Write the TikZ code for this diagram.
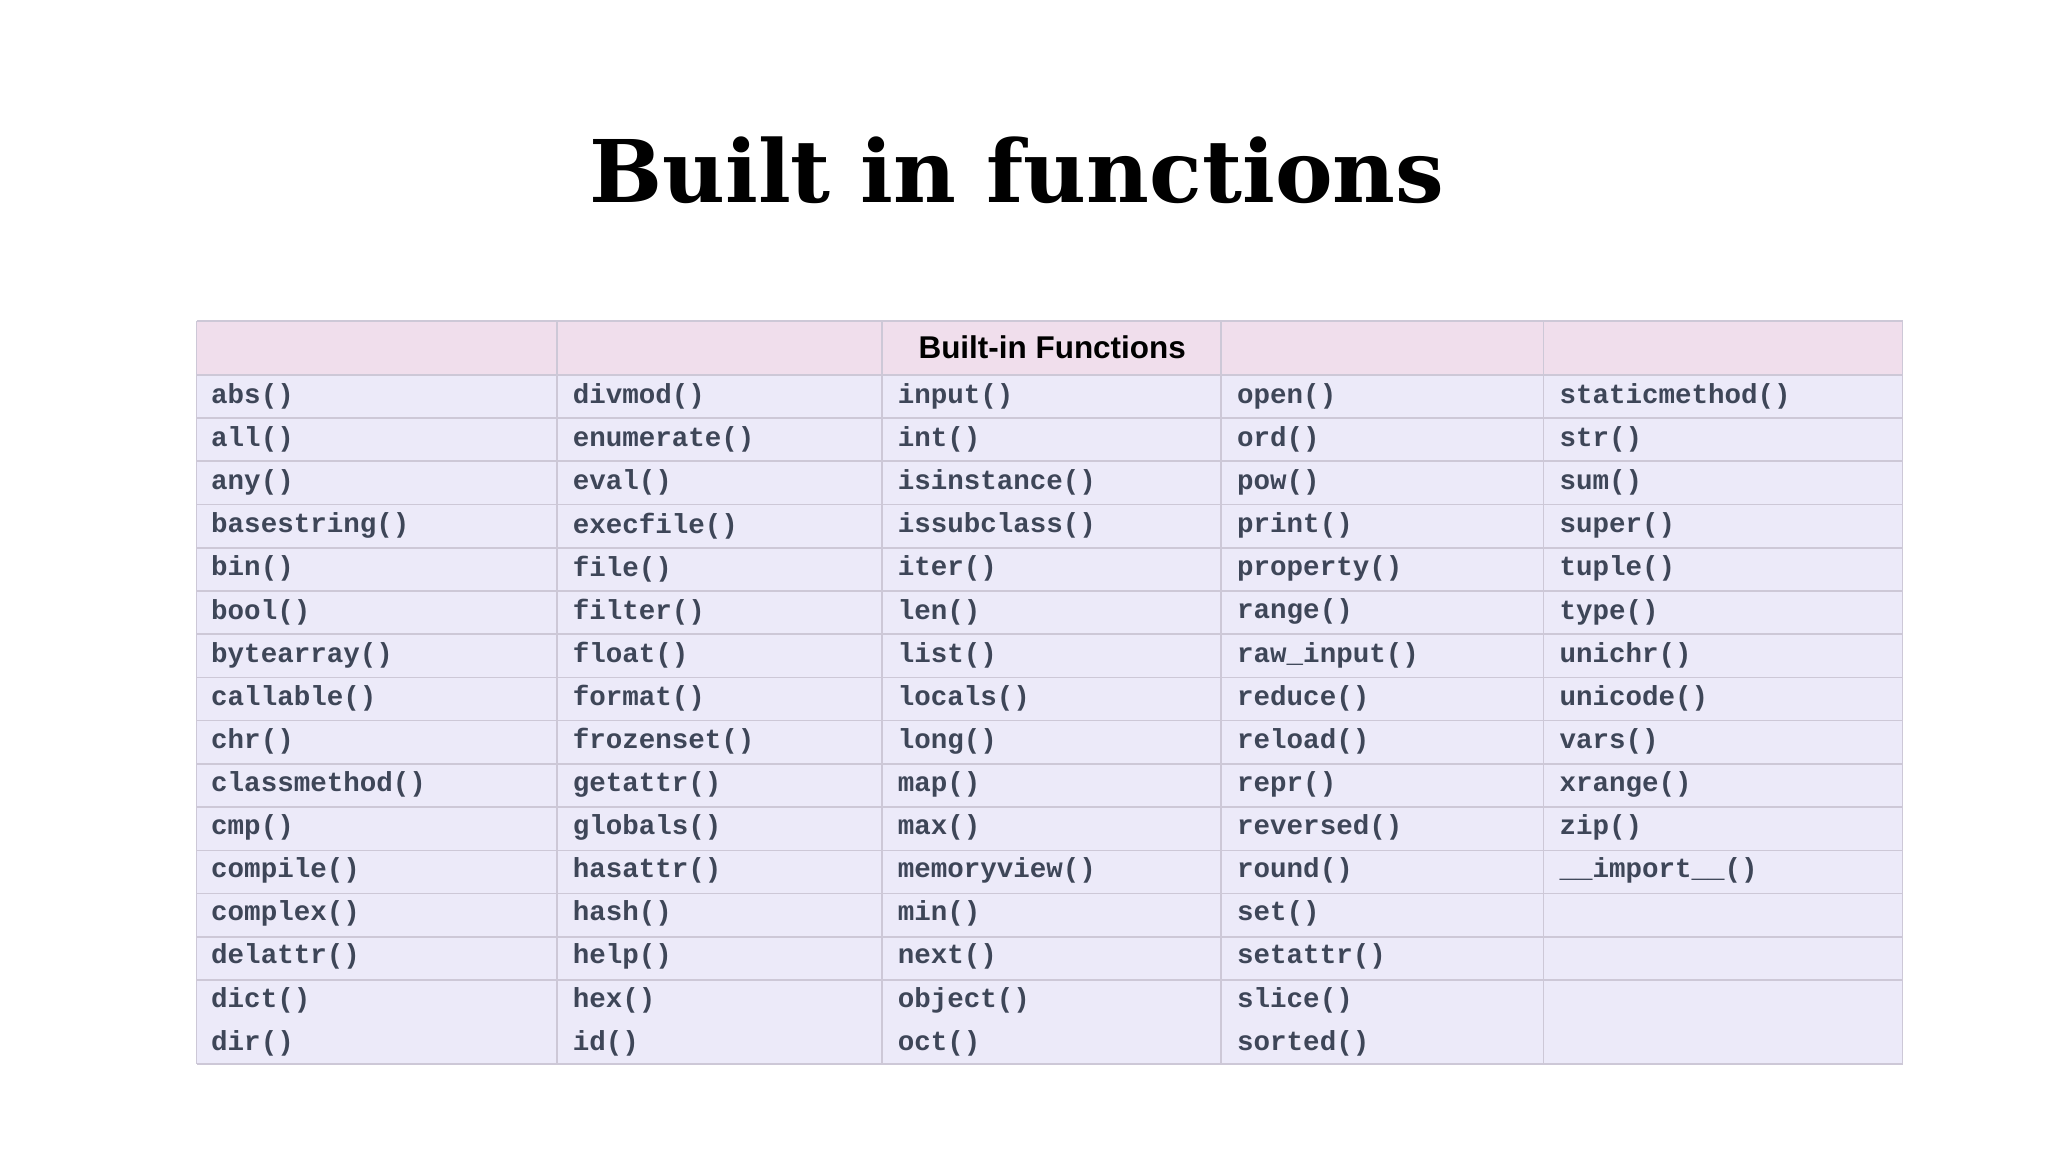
\documentclass[tikz,border=0pt]{standalone}
\usepackage{fontspec}
\setmainfont{DejaVu Serif}
\setsansfont{Liberation Sans}
\setmonofont{Liberation Mono}
\usepackage{xcolor}
\usetikzlibrary{positioning, calc}

\definecolor{headpink}{RGB}{240,222,236}
\definecolor{rowlav}{RGB}{236,234,249}
\definecolor{gridline}{RGB}{205,200,215}
\definecolor{codeink}{RGB}{62,70,88}

\begin{document}
\begin{tikzpicture}[x=1pt, y=-1pt,
cell/.style={anchor=west, inner sep=0pt, text=codeink, font=\fontsize{21}{21}\ttfamily\bfseries},
title/.style={font=\fontsize{66}{66}\selectfont\bfseries},
header/.style={font=\fontsize{24}{24}\sffamily\bfseries}
]
\useasboundingbox (0,0) rectangle (1563,879);

% Title
\node[title] (title) at (776,130) {Built in functions};

% Table background
\fill[headpink] (150,245) rectangle (1452,286);
\fill[rowlav] (150,286) rectangle (1452,812);
\foreach \y in {286,319,...,780} \draw[gridline, line width=1.2pt] (150,\y) -- (1452,\y);
\foreach \x in {150,425,673,932,1178,1452} \draw[gridline, line width=1.2pt] (\x,245) -- (\x,812);
\draw[gridline, line width=1.5pt] (150,245) -- (1452,245);
\draw[gridline, line width=1.5pt] (150,812) -- (1452,812);

% Header
\fill[headpink] (674,246) rectangle (931,285);
\node[header] (head) at (803,265) {Built-in Functions};

% Columns
\foreach \x/\names in {
161/{abs(),all(),any(),basestring(),bin(),bool(),bytearray(),callable(),chr(),classmethod(),cmp(),compile(),complex(),delattr(),dict(),dir()},
437/{divmod(),enumerate(),eval(),execfile(),file(),filter(),float(),format(),frozenset(),getattr(),globals(),hasattr(),hash(),help(),hex(),id()},
685/{input(),int(),isinstance(),issubclass(),iter(),len(),list(),locals(),long(),map(),max(),memoryview(),min(),next(),object(),oct()},
944/{open(),ord(),pow(),print(),property(),range(),raw\_input(),reduce(),reload(),repr(),reversed(),round(),set(),setattr(),slice(),sorted()},
1190/{staticmethod(),str(),sum(),super(),tuple(),type(),unichr(),unicode(),vars(),xrange(),zip(),\_\_import\_\_()}}
{
  \foreach \n [count=\i] in \names
    \node[cell] (c-\x-\i) at (\x,{302.5+32.9*(\i-1)}) {\n};
}

\end{tikzpicture}
\end{document}
